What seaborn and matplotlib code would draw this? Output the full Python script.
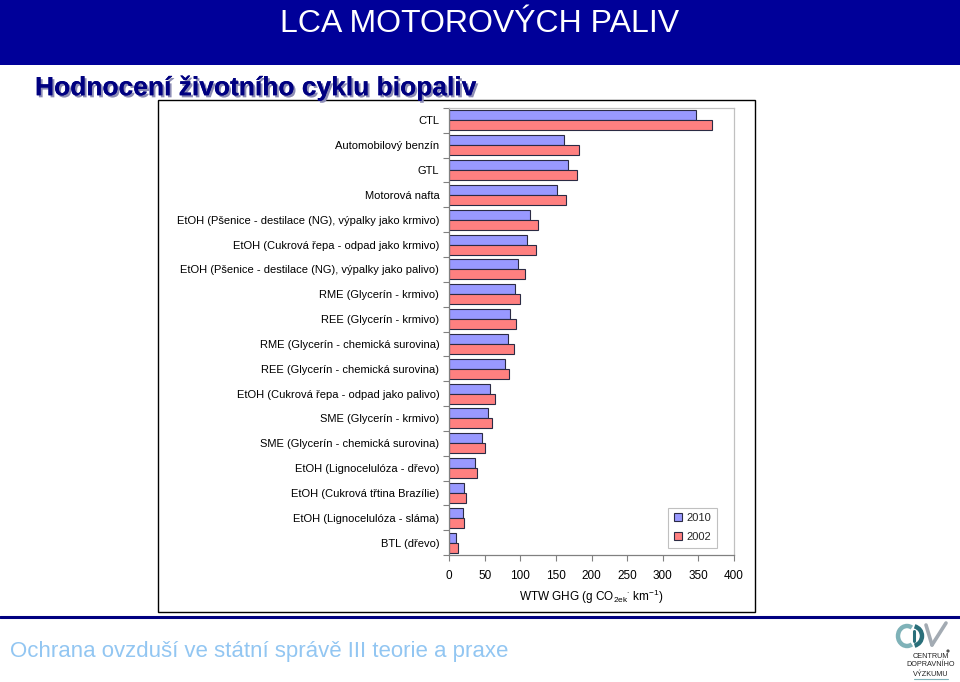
import numpy as np
import pandas as pd
import matplotlib
matplotlib.use("Agg")
import matplotlib.pyplot as plt
import matplotlib.patches as mpatches
import matplotlib.patheffects as pe
from matplotlib.lines import Line2D
import seaborn as sns

# ---- data ----
categories = [
    "CTL",
    "Automobilový benzín",
    "GTL",
    "Motorová nafta",
    "EtOH (Pšenice - destilace (NG), výpalky jako krmivo)",
    "EtOH (Cukrová řepa - odpad jako krmivo)",
    "EtOH (Pšenice - destilace (NG), výpalky jako palivo)",
    "RME (Glycerín - krmivo)",
    "REE (Glycerín - krmivo)",
    "RME (Glycerín - chemická surovina)",
    "REE (Glycerín - chemická surovina)",
    "EtOH (Cukrová řepa - odpad jako palivo)",
    "SME (Glycerín - krmivo)",
    "SME (Glycerín - chemická surovina)",
    "EtOH (Lignocelulóza - dřevo)",
    "EtOH (Cukrová třtina Brazílie)",
    "EtOH (Lignocelulóza - sláma)",
    "BTL (dřevo)",
]
val_2010 = [347, 162, 167, 152, 113, 110, 97, 93, 86, 83, 78, 58, 55, 46, 36, 21, 19, 10]
val_2002 = [369, 183, 179, 164, 125, 122, 107, 100, 94, 91, 84, 65, 60, 51, 39, 24, 21, 12]
years = ["2010", "2002"]
x_ticks = [0, 50, 100, 150, 200, 250, 300, 350, 400]

title = "LCA MOTOROVÝCH PALIV"
subtitle = "Hodnocení životního cyklu biopaliv"
footer = "Ochrana ovzduší ve státní správě III teorie a praxe"

df = pd.DataFrame({
    "kategorie": categories * 2,
    "hodnota": val_2010 + val_2002,
    "rok": [years[0]] * len(categories) + [years[1]] * len(categories),
})

sns.set_theme(style="white")
plt.rcParams["font.family"] = ["Liberation Sans", "DejaVu Sans"]
plt.rcParams["mathtext.fontset"] = "custom"
plt.rcParams["mathtext.rm"] = "Liberation Sans"
plt.rcParams["mathtext.it"] = "Liberation Sans:italic"

W, H = 960, 682
fig = plt.figure(figsize=(9.6, 6.82), dpi=100)
fig.patch.set_facecolor("white")

# overlay axes in pixel coordinates (y downwards)
ov = fig.add_axes([0, 0, 1, 1], zorder=0)
ov.set_xlim(0, W)
ov.set_ylim(H, 0)
ov.axis("off")

# title bar
ov.add_patch(mpatches.Rectangle((0, 0), W, 65, facecolor="#000099", edgecolor="none"))
ov.text(480, 32, title, color="white", fontsize=23, ha="center", va="baseline")

# subtitle with shadow
ov.text(35, 88, subtitle, color="#000080", fontsize=19, fontweight="bold",
        ha="left", va="center",
        path_effects=[pe.withSimplePatchShadow(offset=(1.5, -1.5), shadow_rgbFace="#8c8cb4", alpha=1.0),
                      pe.Normal()])

# chart box
ov.add_patch(mpatches.Rectangle((158, 100), 597, 512, facecolor="white", edgecolor="black", lw=1.0))

# footer line and text
ov.add_line(Line2D([0, W], [616.5, 616.5], color="#000080", lw=2.2))
ov.text(10, 652, footer, color="#92C6F2", fontsize=16, ha="left", va="center")

# logo (approximation)
ov.add_patch(mpatches.Arc((907, 636), 18, 20, theta1=60, theta2=300, color="#7fb2b8", lw=3.2))
ov.add_patch(mpatches.Arc((912, 636), 20, 20, theta1=-75, theta2=75, color="#2a6f7a", lw=3.2))
ov.add_line(Line2D([913.5, 913.5], [631, 641], color="#2a6f7a", lw=2.2))
ov.add_line(Line2D([926, 932], [625, 645], color="#a3abb3", lw=2.6))
ov.add_line(Line2D([932, 946], [645, 623], color="#a3abb3", lw=2.6))
ov.add_patch(mpatches.Circle((948, 651), 0.9, color="#555555"))
for yy, s in [(656, "CENTRUM"), (665, "DOPRAVNÍHO"), (674, "VÝZKUMU")]:
    ov.text(931, yy, s, fontsize=5.2, ha="center", va="center", color="#222222")
ov.add_line(Line2D([914, 948], [679, 679], color="#7fb2b8", lw=0.8))

# main axes
left, right, top, bottom = 449, 734, 108, 555
ax = fig.add_axes([left / W, 1 - bottom / H, (right - left) / W, (bottom - top) / H], zorder=1)
ax.set_facecolor("white")

sns.barplot(data=df, y="kategorie", x="hodnota", hue="rok", hue_order=years, order=categories,
            orient="h", palette={"2010": "#9999FF", "2002": "#FF8080"}, saturation=1,
            edgecolor="#2b2b44", linewidth=0.8, width=0.8, ax=ax, errorbar=None)

ax.set_xlim(0, 400)
ax.set_xticks(x_ticks)
ax.set_xticklabels([str(t) for t in x_ticks])
ax.set_ylabel("")
ax.set_xlabel(r"WTW GHG (g CO$_{\mathrm{2ek}}$$^{\cdot}$ km$^{\mathrm{-1}}$)", fontsize=8.5)
ax.xaxis.set_label_coords(0.5, -0.094)
ax.xaxis.label.set_va("center")

n = len(categories)
ax.set_yticks(np.arange(-0.5, n, 1), minor=True)
ax.tick_params(axis="y", which="major", length=0, pad=7, labelsize=8, labelcolor="black")
ax.tick_params(axis="y", which="minor", length=4, width=0.8, color="#808080", left=True, direction="out")
ax.tick_params(axis="x", which="major", length=4, width=0.8, color="#808080", bottom=True,
               direction="out", pad=7, labelsize=8.5, labelcolor="black")
ax.xaxis.label.set_color("black")

for side in ["left", "bottom"]:
    ax.spines[side].set_color("#808080")
    ax.spines[side].set_linewidth(0.9)
for side in ["top", "right"]:
    ax.spines[side].set_color("#c0c0c0")
    ax.spines[side].set_linewidth(0.9)
    ax.spines[side].set_visible(True)

handles, labels = ax.get_legend_handles_labels()
if ax.get_legend() is not None:
    ax.get_legend().remove()
leg = ax.legend(handles, labels, loc="center",
                bbox_to_anchor=((666 + 719) / 2 / W, 1 - (507 + 548) / 2 / H),
                bbox_transform=fig.transFigure, fontsize=8, frameon=True, fancybox=False,
                handlelength=0.7, handleheight=0.7, handletextpad=0.4, labelspacing=0.8,
                borderpad=0.5, framealpha=1.0, edgecolor="#c0c0c0")
leg.get_frame().set_linewidth(0.8)

fig.savefig("out.png", dpi=100)
